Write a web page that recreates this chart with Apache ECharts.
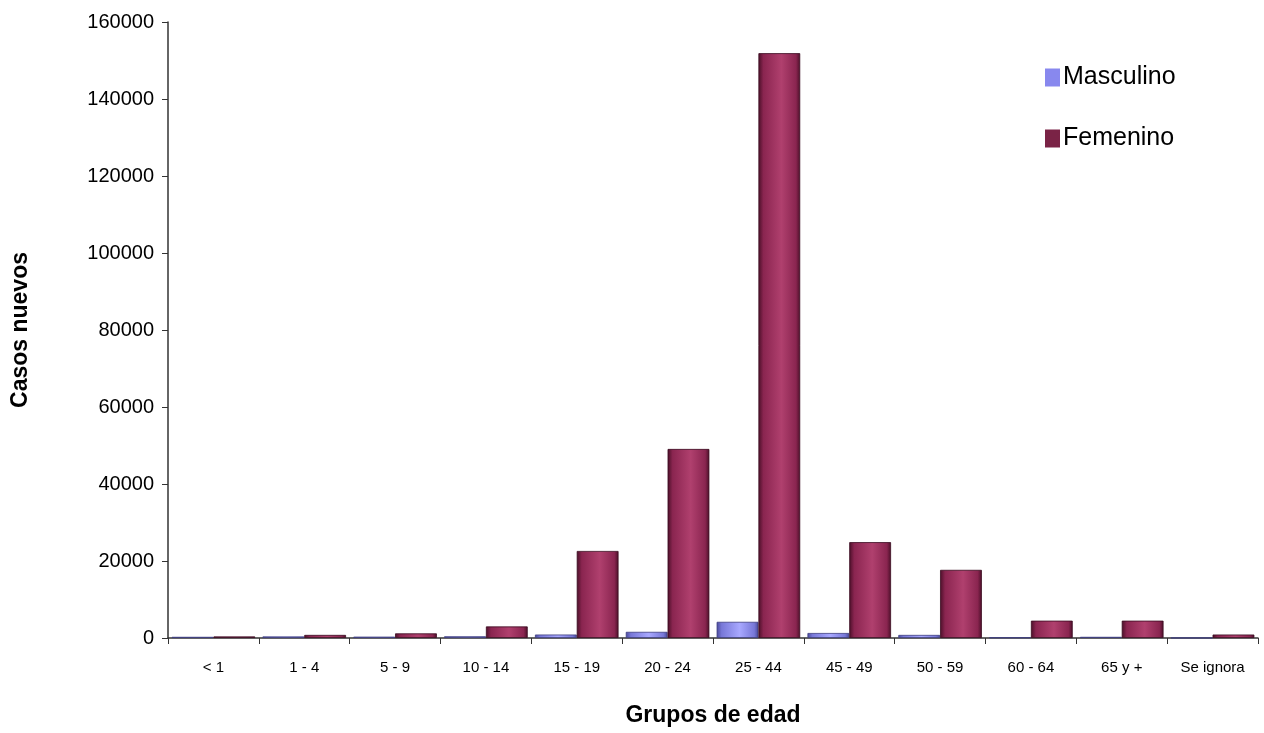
<!DOCTYPE html>
<html>
<head>
<meta charset="utf-8">
<script src="https://cdn.jsdelivr.net/npm/echarts@6/dist/echarts.min.js"></script>
<style>html,body{margin:0;padding:0;background:#fff}#c{width:1264px;height:733px}</style>
</head>
<body>
<div id="c"></div>
<script>
const categories = ['< 1','1 - 4','5 - 9','10 - 14','15 - 19','20 - 24','25 - 44','45 - 49','50 - 59','60 - 64','65 y +','Se ignora'];
const masculino = [300, 400, 350, 450, 900, 1600, 4200, 1300, 800, 150, 300, 50];
const femenino = [400, 800, 1200, 3000, 22600, 49100, 151900, 24900, 17700, 4500, 4500, 900];
const yTicks = { min: 0, max: 160000, interval: 20000 };

function grad(dark, mid, light) {
  return new echarts.graphic.LinearGradient(0, 0, 1, 0, [
    { offset: 0, color: dark },
    { offset: 0.12, color: mid },
    { offset: 0.55, color: light },
    { offset: 0.9, color: mid },
    { offset: 1, color: dark }
  ]);
}

const chart = echarts.init(document.getElementById('c'));
chart.setOption({
  animation: false,
  backgroundColor: '#fff',
  grid: { left: 168, right: 6, top: 22, bottom: 95 },
  legend: {
    orient: 'vertical',
    left: 1040,
    top: 60,
    itemGap: 36,
    itemWidth: 15,
    itemHeight: 18,
    icon: 'rect',
    textStyle: { fontFamily: 'Liberation Sans, Arial', fontSize: 25, color: '#000', padding: [0, 0, 0, -2] },
    data: [
      { name: 'Masculino', itemStyle: { color: '#8888ee', borderWidth: 0 } },
      { name: 'Femenino', itemStyle: { color: '#7a2346', borderWidth: 0 } }
    ]
  },
  xAxis: {
    type: 'category',
    data: categories,
    name: 'Grupos de edad',
    nameLocation: 'middle',
    nameGap: 66,
    nameTextStyle: { fontFamily: 'Liberation Sans, Arial', fontSize: 23, fontWeight: 'bold', color: '#000' },
    axisLine: { lineStyle: { color: '#333', width: 1.5 } },
    axisTick: { show: true, length: 6, lineStyle: { color: '#333' } },
    axisLabel: { fontFamily: 'Liberation Sans, Arial', fontSize: 15, color: '#000', margin: 22, interval: 0 }
  },
  yAxis: {
    type: 'value',
    min: yTicks.min,
    max: yTicks.max,
    interval: yTicks.interval,
    name: 'Casos nuevos',
    nameLocation: 'middle',
    nameGap: 136,
    nameTextStyle: { fontFamily: 'Liberation Sans, Arial', fontSize: 23, fontWeight: 'bold', color: '#000' },
    splitLine: { show: false },
    axisLine: { show: true, lineStyle: { color: '#333', width: 1.5 } },
    axisTick: { show: true, length: 6, lineStyle: { color: '#333' } },
    axisLabel: { fontFamily: 'Liberation Sans, Arial', fontSize: 20, color: '#000', margin: 14, formatter: v => String(v) }
  },
  series: [
    {
      name: 'Masculino',
      type: 'bar',
      data: masculino,
      barGap: '0%',
      barCategoryGap: '8%',
      itemStyle: { color: grad('#4a4a9a', '#7878d8', '#a8a8ff'), borderColor: '#3c3c80', borderWidth: 0.8 }
    },
    {
      name: 'Femenino',
      type: 'bar',
      data: femenino,
      barGap: '0%',
      barCategoryGap: '8%',
      itemStyle: { color: grad('#4a0f28', '#8a2550', '#b0406e'), borderColor: '#3a0a20', borderWidth: 0.8 }
    }
  ]
});
</script>
</body>
</html>
